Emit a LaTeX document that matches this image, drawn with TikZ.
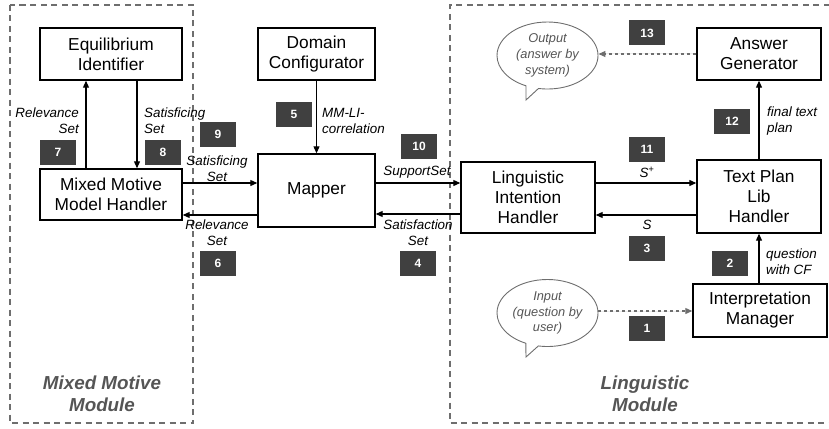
\documentclass[tikz,border=0pt]{standalone}
\usepackage{fontspec}
\setmainfont{Liberation Sans}
\usetikzlibrary{arrows.meta,shapes.callouts}
\definecolor{stepgray}{RGB}{64,64,64}
\definecolor{framegray}{RGB}{110,110,110}
\definecolor{modgray}{RGB}{85,85,85}

\begin{document}
\begin{tikzpicture}[
    x=1pt, y=-1pt,
    box/.style={rectangle, draw, line width=1.4pt, align=center, inner sep=0pt, font=\fontsize{17.3}{20}\selectfont},
    num/.style={rectangle, fill=stepgray, text=white, minimum width=36pt, minimum height=25pt, inner sep=0pt, font=\fontsize{12}{14}\selectfont\bfseries},
    lbl/.style={align=center, inner sep=0pt, font=\fontsize{13.4}{15.8}\selectfont\itshape},
    arr/.style={-{Triangle[length=7pt,width=6pt]}, line width=1.1pt},
    darr/.style={arr, dashed, draw=framegray, fill=framegray},
    bubble/.style={ellipse callout, draw=framegray, line width=0.9pt, minimum width=101pt, minimum height=67pt, inner sep=0pt, align=center, text=modgray, font=\fontsize{12.8}{15.8}\selectfont\itshape},
    module/.style={draw=framegray, line width=1.5pt, dash pattern=on 6pt off 4.5pt},
    modlabel/.style={align=center, inner sep=0pt, text=modgray, font=\fontsize{18.8}{22}\selectfont\bfseries\itshape}
]
\useasboundingbox (0,0) rectangle (829,428);

% module frames
\draw[module] (10,5) rectangle (193,423);
\draw[module] (840,5) -- (450,5) -- (450,423) -- (840,423);
\node[modlabel] (mmlabel) at (102,394) {Mixed Motive\\Module};
\node[modlabel] (lmlabel) at (645,394) {Linguistic\\Module};

% components
\node[box, minimum width=142pt, minimum height=52pt] (eqid) at (111,54) {Equilibrium\\Identifier};
\node[box, minimum width=117pt, minimum height=52pt] (dc) at (316.5,54) {Domain\\Configurator};
\node[box, minimum width=142pt, minimum height=51pt] (mmh) at (111,194.5) {Mixed Motive\\Model Handler};
\node[box, minimum width=117pt, minimum height=73pt] (mapper) at (316.5,190.5) {Mapper};
\node[box, minimum width=134pt, minimum height=71pt] (lih) at (528,197.5) {Linguistic\\Intention\\Handler};
\node[box, minimum width=124pt, minimum height=73pt] (tplh) at (759,196.5) {Text Plan\\Lib\\Handler};
\node[box, minimum width=124pt, minimum height=52pt] (ag) at (759,54) {Answer\\Generator};
\node[box, minimum width=134pt, minimum height=53pt] (im) at (760,310.5) {Interpretation\\Manager};

% speech bubbles
\node[bubble, callout absolute pointer={(526,100)}] (outp) at (547.5,55.5) {Output\\(answer by\\system)};
\node[bubble, callout absolute pointer={(526,357)}] (inp) at (547.5,313) {Input\\(question by\\user)};

% step numbers
\node[num] (n1) at (647,328) {1};
\node[num] (n2) at (730,263) {2};
\node[num] (n3) at (647,248) {3};
\node[num] (n4) at (418,263) {4};
\node[num] (n5) at (294,114) {5};
\node[num] (n6) at (218,263) {6};
\node[num] (n7) at (58,152) {7};
\node[num] (n8) at (163,152) {8};
\node[num] (n9) at (218,134) {9};
\node[num] (n10) at (419,146) {10};
\node[num] (n11) at (647,149) {11};
\node[num] (n12) at (732,121) {12};
\node[num] (n13) at (647,33) {13};

% connectors
\draw[arr] ([xshift=-25pt]mmh.north) -- ([xshift=-25pt]mmh.north |- eqid.south);
\draw[arr] ([xshift=26pt]eqid.south) -- ([xshift=26pt]eqid.south |- mmh.north);
\draw[arr] ([yshift=11.5pt]mmh.east) -- ([yshift=11.5pt]mmh.east -| mapper.west);
\draw[arr] ([yshift=-24.5pt]mapper.west) -- ([yshift=-24.5pt]mapper.west -| mmh.east);
\draw[arr] (dc.south) -- (mapper.north);
\draw[arr] ([yshift=7.5pt]mapper.east) -- ([yshift=7.5pt]mapper.east -| lih.west);
\draw[arr] ([yshift=-16.5pt]lih.west) -- ([yshift=-16.5pt]lih.west -| mapper.east);
\draw[arr] ([yshift=14.5pt]lih.east) -- ([yshift=14.5pt]lih.east -| tplh.west);
\draw[arr] ([yshift=-18.5pt]tplh.west) -- ([yshift=-18.5pt]tplh.west -| lih.east);
\draw[arr] (tplh.north) -- (ag.south);
\draw[arr] (tplh.south |- im.north) -- (tplh.south);
\draw[darr] ([yshift=2pt]inp.east) -- ([yshift=2pt]inp.east -| im.west);
\draw[darr] (ag.west) -- (ag.west -| outp.east);

% connector labels
\node[lbl, align=right, anchor=east] (relup) at (79,121) {Relevance\\Set};
\node[lbl, align=left, anchor=west] (satdown) at (144,121) {Satisficing\\Set};
\node[lbl] (satmap) at (217,169) {Satisficing\\Set};
\node[lbl] (relmap) at (217,233) {Relevance\\Set};
\node[lbl, align=left, anchor=west] (mmli) at (322,121) {MM-LI-\\correlation};
\node[lbl] (supp) at (417,172) {SupportSet};
\node[lbl] (satis) at (418,233) {Satisfaction\\Set};
\node[lbl] (splus) at (647,172) {S\textsuperscript{+}};
\node[lbl] (sset) at (647,225) {S};
\node[lbl, align=left, anchor=west] (ftp) at (767,121) {final text\\plan};
\node[lbl, align=left, anchor=west] (qcf) at (766,262) {question\\with CF};
\end{tikzpicture}
\end{document}
